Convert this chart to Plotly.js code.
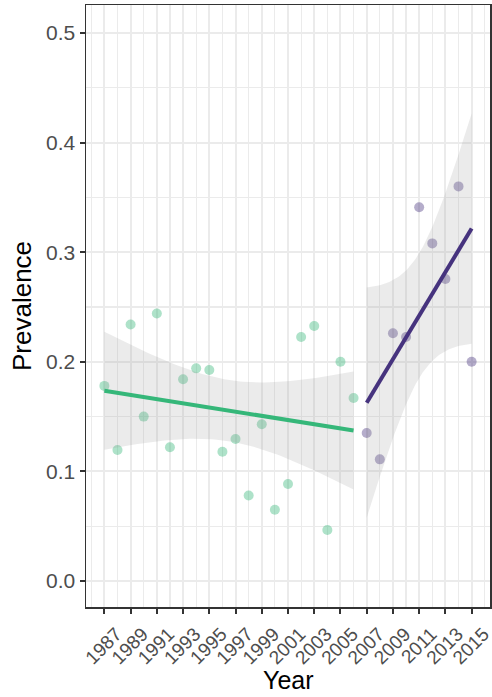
<!DOCTYPE html>
<html>
<head>
<meta charset="utf-8">
<script src="https://cdn.plot.ly/plotly-3.0.1.min.js"></script>
<style>html,body{margin:0;padding:0;background:#fff;}#chart{width:492px;height:697px;}</style>
</head>
<body>
<div id="chart"></div>
<script>
// Period 1 (1987-2006)
const years1 = [1987,1988,1989,1990,1991,1992,1993,1994,1995,1996,1997,1998,1999,2000,2001,2002,2003,2004,2005,2006];
const prev1  = [0.178,0.1195,0.234,0.150,0.244,0.122,0.184,0.194,0.1925,0.118,0.1295,0.078,0.143,0.065,0.0885,0.2226,0.2326,0.0465,0.200,0.167];
// Period 2 (2007-2015)
const years2 = [2007,2008,2009,2010,2011,2012,2013,2014,2015];
const prev2  = [0.135,0.111,0.226,0.2226,0.341,0.308,0.2755,0.360,0.200];
const xTicks = [1987,1989,1991,1993,1995,1997,1999,2001,2003,2005,2007,2009,2011,2013,2015];
const yTicks = [0,0.1,0.2,0.3,0.4,0.5];

const green = '#35B779', purple = '#46337E';

// linear model fit with 95% confidence band (like geom_smooth(method="lm"))
function lmFit(xs, ys, tcrit){
  const n = xs.length;
  const mx = xs.reduce((a,b)=>a+b,0)/n, my = ys.reduce((a,b)=>a+b,0)/n;
  let sxx=0, sxy=0;
  for(let i=0;i<n;i++){sxx+=(xs[i]-mx)**2; sxy+=(xs[i]-mx)*(ys[i]-my);}
  const b = sxy/sxx, a = my - b*mx;
  let sse=0; for(let i=0;i<n;i++){sse+=(ys[i]-a-b*xs[i])**2;}
  const s = Math.sqrt(sse/(n-2));
  const x0 = Math.min(...xs), x1 = Math.max(...xs);
  const gx=[], gy=[], lo=[], hi=[];
  for(let k=0;k<80;k++){
    const x = x0 + (x1-x0)*k/79;
    const yh = a + b*x;
    const se = s*Math.sqrt(1/n + (x-mx)**2/sxx);
    gx.push(x); gy.push(yh); lo.push(yh - tcrit*se); hi.push(yh + tcrit*se);
  }
  return {gx, gy, lo, hi};
}
const f1 = lmFit(years1, prev1, 2.1009);
const f2 = lmFit(years2, prev2, 2.3646);

function ribbon(f){
  return {x: f.gx.concat(f.gx.slice().reverse()), y: f.hi.concat(f.lo.slice().reverse()),
    type:'scatter', mode:'lines', fill:'toself', fillcolor:'rgba(153,153,153,0.2)',
    line:{width:0}, hoverinfo:'skip', showlegend:false};
}

const traces = [
  {x: years1, y: prev1, type:'scatter', mode:'markers', marker:{color:green, opacity:0.4, size:10}, showlegend:false},
  {x: years2, y: prev2, type:'scatter', mode:'markers', marker:{color:purple, opacity:0.4, size:10}, showlegend:false},
  ribbon(f1), ribbon(f2),
  {x: f1.gx, y: f1.gy, type:'scatter', mode:'lines', line:{color:green, width:4}, showlegend:false},
  {x: f2.gx, y: f2.gy, type:'scatter', mode:'lines', line:{color:purple, width:4}, showlegend:false}
];

const W = 492, H = 697, M = {l:86, r:2, t:5, b:90};
const plotW = W - M.l - M.r, plotH = H - M.t - M.b;

const layout = {
  width: W, height: H,
  margin: M,
  paper_bgcolor:'#fff', plot_bgcolor:'#fff',
  font: {family:'Liberation Sans, Arial, sans-serif', color:'#4d4d4d'},
  showlegend:false,
  xaxis: {
    range:[1985.6, 2016.4], tickvals: xTicks, ticktext: xTicks.map(String),
    tickangle:-45, tickfont:{size:19, color:'#4d4d4d'},
    ticklabelshift:12, ticklabelstandoff:2, ticklabeloverflow:'allow',
    ticks:'outside', ticklen:5, tickwidth:2, tickcolor:'#333',
    showgrid:true, gridcolor:'#ebebeb', gridwidth:2,
    minor:{dtick:1, tick0:1987, showgrid:true, gridcolor:'#ebebeb', gridwidth:1.2},
    showline:true, mirror:true, linecolor:'#333', linewidth:1.5,
    zeroline:false
  },
  yaxis: {
    range:[-0.0237, 0.5255], tickvals: yTicks, ticktext: yTicks.map(v=>v.toFixed(1)),
    tickfont:{size:21, color:'#4d4d4d'},
    ticks:'outside', ticklen:5, tickwidth:2, tickcolor:'#333',
    showgrid:true, gridcolor:'#ebebeb', gridwidth:2,
    minor:{dtick:0.05, tick0:0, showgrid:true, gridcolor:'#ebebeb', gridwidth:1.2},
    showline:true, mirror:true, linecolor:'#333', linewidth:1.5,
    zeroline:false
  },
  annotations: [
    {text:'Year', xref:'paper', yref:'paper', x:0.5, y:-(680 - (H - M.b))/plotH,
     xanchor:'center', yanchor:'middle', showarrow:false, font:{size:25, color:'#000'}},
    {text:'Prevalence', xref:'paper', yref:'paper', x:-(M.l - 22)/plotW, y:0.5, textangle:-90,
     xanchor:'center', yanchor:'middle', showarrow:false, font:{size:26, color:'#000'}}
  ]
};

Plotly.newPlot('chart', traces, layout, {displayModeBar:false, staticPlot:true});
</script>
</body>
</html>
